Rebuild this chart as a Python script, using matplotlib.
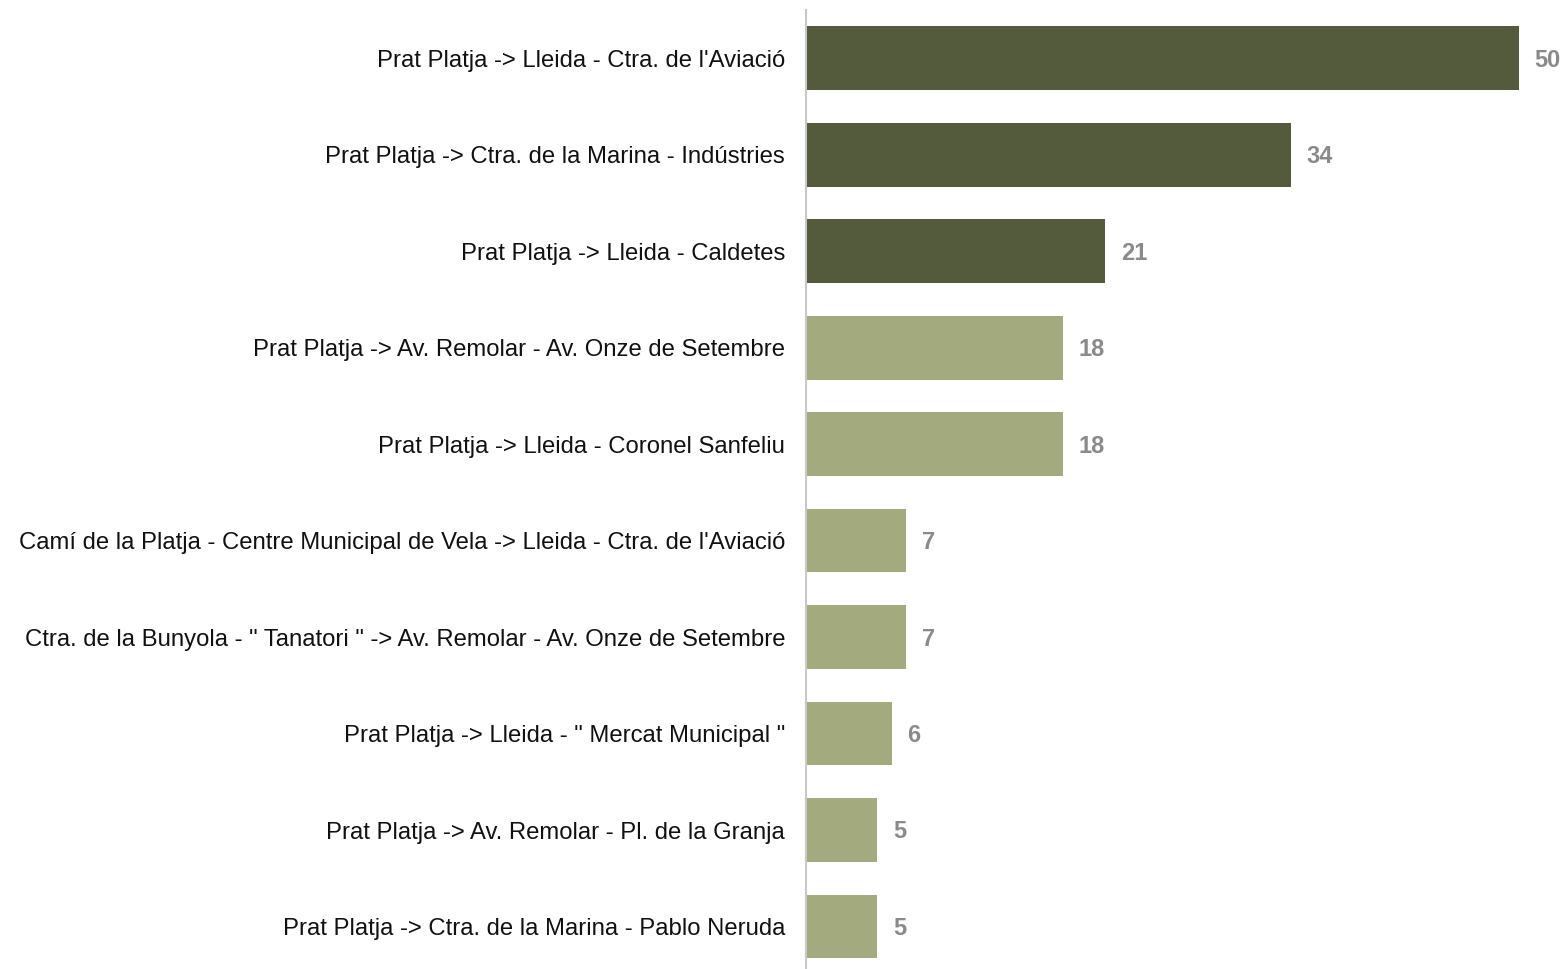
import matplotlib
matplotlib.use("Agg")
import matplotlib.pyplot as plt

# routes and counts, top to bottom
routes = [
    "Prat Platja -> Lleida - Ctra. de l'Aviació",
    "Prat Platja -> Ctra. de la Marina - Indústries",
    "Prat Platja -> Lleida - Caldetes",
    "Prat Platja -> Av. Remolar - Av. Onze de Setembre",
    "Prat Platja -> Lleida - Coronel Sanfeliu",
    "Camí de la Platja - Centre Municipal de Vela -> Lleida - Ctra. de l'Aviació",
    "Ctra. de la Bunyola - \" Tanatori \" -> Av. Remolar - Av. Onze de Setembre",
    "Prat Platja -> Lleida - \" Mercat Municipal \"",
    "Prat Platja -> Av. Remolar - Pl. de la Granja",
    "Prat Platja -> Ctra. de la Marina - Pablo Neruda",
]
counts = [50, 34, 21, 18, 18, 7, 7, 6, 5, 5]
top_n = 3

dark = "#545a3c"
light = "#a3aa7e"
colors = [dark if i < top_n else light for i in range(len(counts))]

plt.rcParams['font.family'] = ['Liberation Sans', 'DejaVu Sans']

fig = plt.figure(figsize=(15.65, 9.69), dpi=100)
ax = fig.add_axes([806 / 1565, 0, 759 / 1565, 959 / 969])

y = list(range(len(routes)))
ax.barh(y, counts, height=0.66, color=colors)
ax.set_xlim(0, 759 / 14.26)
ax.set_ylim(9.44, -0.5)

for yi, v in zip(y, counts):
    ax.text(v + 1.1, yi + 0.02, str(v), va="center", ha="left", fontsize=17,
            fontweight="bold", color="#8a8a8a")

ax.set_yticks(y)
ax.set_yticklabels(routes, fontsize=17.2, color="#111111")
ax.tick_params(axis="y", length=0, pad=15)
ax.set_xticks([])
for s in ["top", "right", "bottom"]:
    ax.spines[s].set_visible(False)
ax.spines["left"].set_color("#c8c8c8")
ax.spines["left"].set_linewidth(1.5)

fig.savefig("out.png", dpi=100)
